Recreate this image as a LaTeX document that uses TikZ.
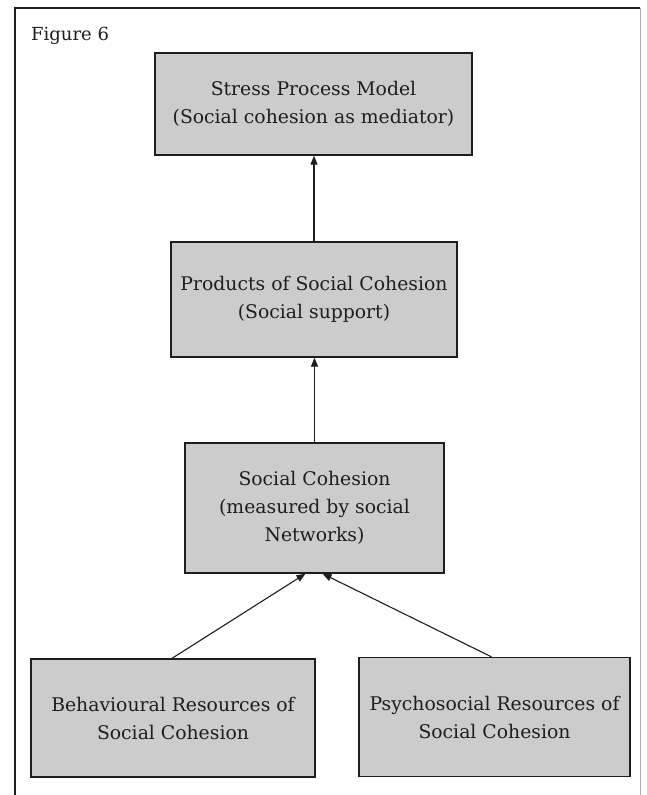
\documentclass[tikz,border=0pt]{standalone}
\usepackage{fontspec}
\setmainfont{DejaVu Serif}
\usetikzlibrary{arrows.meta,calc}
\definecolor{boxfill}{RGB}{204,204,204}
\definecolor{inkc}{RGB}{30,30,30}
\begin{document}
\begin{tikzpicture}[x=1pt,y=-1pt,
  diagbox/.style={draw=inkc,line width=1.3pt,fill=boxfill,inner sep=0pt,
    align=center,text=inkc,font=\fontsize{18.8}{28}\selectfont},
  conn/.style={draw=inkc,line width=1.1pt,-{Triangle[length=9pt,width=7pt]}},
  framedark/.style={draw=inkc,line width=1.2pt},
  framelight/.style={draw=black!30,line width=0.8pt}]
\useasboundingbox (0,0) rectangle (647,795);
\fill[white] (0,0) rectangle (647,795);
% frame
\coordinate (ftl) at (15,8);
\coordinate (ftr) at (640,8);
\coordinate (fbl) at (15,795);
\coordinate (fbr) at (640,795);
\draw[framelight] (ftr) -- (fbr);
\draw[framedark] (fbl) -- (ftl) -- (ftr);
\node[anchor=base west,text=inkc,font=\fontsize{18}{20}\selectfont,inner sep=0pt] (fig) at (31,40) {Figure 6};
% boxes
\node[diagbox,minimum width=317pt,minimum height=102pt] (b1) at (313.5,104) {Stress Process Model\\(Social cohesion as mediator)};
\node[diagbox,minimum width=286pt,minimum height=115pt] (b2) at (314,299.5) {Products of Social Cohesion\\(Social support)};
\node[diagbox,minimum width=259pt,minimum height=130pt] (b3) at (314.5,508) {Social Cohesion\\(measured by social\\Networks)};
\node[diagbox,minimum width=284pt,minimum height=118pt] (b4) at (173,718) {Behavioural Resources of\\Social Cohesion};
\node[diagbox,minimum width=271pt,minimum height=119pt] (b5) at (494.5,717) {Psychosocial Resources of\\Social Cohesion};
% connectors
\draw[conn] (b2.north) -- (b2.north |- b1.south);
\draw[conn] (b3.north) -- (b3.north |- b2.south);
\draw[conn] ($(b4.north)+(-1,0)$) -- ($(b3.south)+(-9,0)$);
\draw[conn] ($(b5.north)+(-3,0)$) -- ($(b3.south)+(8,0)$);
\end{tikzpicture}
\end{document}
